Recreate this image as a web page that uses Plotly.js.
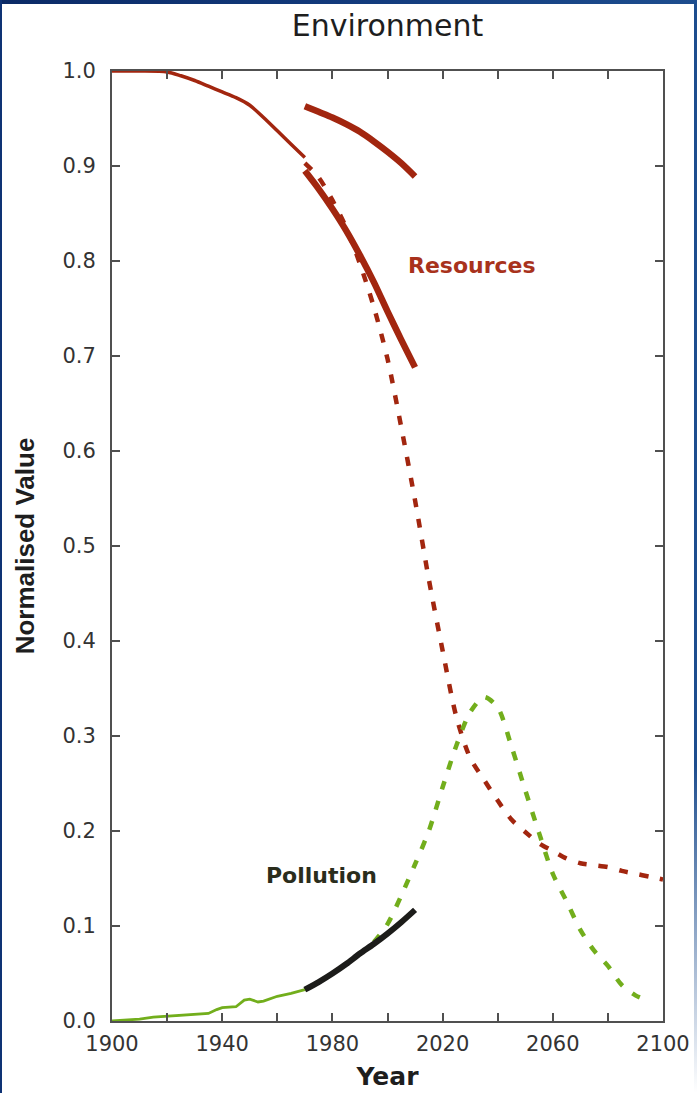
<!DOCTYPE html>
<html>
<head>
<meta charset="utf-8">
<script src="https://cdn.plot.ly/plotly-3.0.1.min.js"></script>
<style>
  html, body { margin: 0; padding: 0; background: #ffffff; }
  #wrap { position: relative; width: 697px; height: 1093px; overflow: hidden; }
  #chart { position: absolute; left: 0; top: 0; width: 697px; height: 1093px; }
  .bd { position: absolute; pointer-events: none; }
  #bTop { left: 0; top: 0; width: 697px; height: 4px; background: linear-gradient(90deg, #0b2a66 0%, #123a7c 50%, #1d4d8e 100%); }
  #bLeft { left: 0; top: 0; width: 2px; height: 1093px; background: #0e3274; }
  #bRight { right: 0; top: 0; width: 3px; height: 1093px; background: linear-gradient(180deg, #1d4d8e 0%, #1d4d8e 70%, rgba(29,77,142,0) 100%); }
</style>
</head>
<body>
<div id="wrap">
  <div id="chart"></div>
  <div class="bd" id="bTop"></div>
  <div class="bd" id="bLeft"></div>
  <div class="bd" id="bRight"></div>
</div>
<script>
// ---- Data ----
const resHistYears = [1900, 1910, 1920, 1925, 1930, 1935, 1940, 1945, 1950, 1955, 1960, 1965, 1970];
const resHistVals  = [1.000, 1.000, 0.999, 0.995, 0.990, 0.984, 0.978, 0.972, 0.964, 0.951, 0.937, 0.923, 0.909];

const resObsYears  = [1970, 1975, 1980, 1985, 1990, 1995, 2000, 2005, 2010];
const resUpperVals = [0.963, 0.957, 0.951, 0.944, 0.936, 0.926, 0.915, 0.903, 0.889];
const resLowerVals = [0.895, 0.876, 0.855, 0.832, 0.806, 0.778, 0.747, 0.717, 0.688];

const resModelYears = [1970, 1975, 1980, 1985, 1990, 1995, 2000, 2005, 2010, 2015, 2020, 2025, 2030, 2035, 2040, 2045, 2050, 2055, 2060, 2065, 2070, 2075, 2080, 2085, 2090, 2095, 2100];
const resModelVals  = [0.903, 0.888, 0.864, 0.835, 0.797, 0.752, 0.697, 0.625, 0.548, 0.465, 0.390, 0.320, 0.277, 0.254, 0.232, 0.212, 0.199, 0.187, 0.179, 0.171, 0.166, 0.164, 0.162, 0.158, 0.155, 0.152, 0.149];

const polHistYears = [1900, 1905, 1910, 1915, 1920, 1925, 1930, 1935, 1938, 1940, 1945, 1948, 1950, 1953, 1955, 1960, 1965, 1970];
const polHistVals  = [0.000, 0.001, 0.002, 0.004, 0.005, 0.006, 0.007, 0.008, 0.012, 0.014, 0.015, 0.022, 0.023, 0.020, 0.021, 0.026, 0.029, 0.033];

const polObsYears = [1970, 1975, 1980, 1985, 1990, 1995, 2000, 2005, 2010];
const polObsVals  = [0.033, 0.041, 0.050, 0.060, 0.071, 0.081, 0.092, 0.104, 0.117];

const polModelYears = [1970, 1975, 1980, 1985, 1990, 1995, 2000, 2005, 2010, 2015, 2020, 2025, 2030, 2035, 2040, 2045, 2050, 2055, 2060, 2065, 2070, 2075, 2080, 2085, 2090, 2095];
const polModelVals  = [0.033, 0.041, 0.050, 0.060, 0.071, 0.083, 0.102, 0.132, 0.165, 0.200, 0.246, 0.290, 0.325, 0.341, 0.330, 0.289, 0.243, 0.198, 0.155, 0.126, 0.096, 0.074, 0.058, 0.038, 0.027, 0.021];

const xTickVals = [1900, 1920, 1940, 1960, 1980, 2000, 2020, 2040, 2060, 2080, 2100];
const xTickText = ['1900', '', '1940', '', '1980', '', '2020', '', '2060', '', '2100'];

const chartTitle = 'Environment';
const xTitle = 'Year';
const yTitle = 'Normalised Value';
const labelResources = 'Resources';
const labelPollution = 'Pollution';

// ---- Styles ----
const RED = '#a2260f';
const GREEN = '#72ae1c';
const BLACK = '#1c1c1a';

const traces = [
  { x: resModelYears, y: resModelVals, mode: 'lines', line: { color: RED, width: 4.5, dash: '9px,12px', shape: 'spline', smoothing: 0.8 }, hoverinfo: 'skip' },
  { x: resHistYears, y: resHistVals, mode: 'lines', line: { color: RED, width: 3.5, shape: 'spline', smoothing: 0.8 }, hoverinfo: 'skip' },
  { x: resObsYears, y: resUpperVals, mode: 'lines', line: { color: RED, width: 6.5, shape: 'spline', smoothing: 0.8 }, hoverinfo: 'skip' },
  { x: resObsYears, y: resLowerVals, mode: 'lines', line: { color: RED, width: 6.5, shape: 'spline', smoothing: 0.8 }, hoverinfo: 'skip' },
  { x: polModelYears, y: polModelVals, mode: 'lines', line: { color: GREEN, width: 4.5, dash: '9px,12px', shape: 'spline', smoothing: 0.8 }, hoverinfo: 'skip' },
  { x: polHistYears, y: polHistVals, mode: 'lines', line: { color: GREEN, width: 2.8 }, hoverinfo: 'skip' },
  { x: polObsYears, y: polObsVals, mode: 'lines', line: { color: BLACK, width: 6, shape: 'spline', smoothing: 0.8 }, hoverinfo: 'skip' }
];

const axisCommon = {
  showgrid: false, zeroline: false,
  showline: true, linecolor: '#505050', linewidth: 2, mirror: 'ticks',
  ticks: 'inside', ticklen: 8, tickwidth: 2, tickcolor: '#505050'
};

const layout = {
  width: 697, height: 1093,
  margin: { l: 112, r: 34, t: 71, b: 72, pad: 0 },
  paper_bgcolor: '#ffffff', plot_bgcolor: '#ffffff',
  showlegend: false,
  title: {
    text: chartTitle,
    font: { family: 'DejaVu Sans, sans-serif', size: 30, color: '#1e1e1e' },
    xref: 'paper', x: 0.5, xanchor: 'center',
    yref: 'container', y: 1 - 25 / 1093, yanchor: 'middle'
  },
  xaxis: Object.assign({}, axisCommon, {
    range: [1900, 2100],
    tickmode: 'array', tickvals: xTickVals, ticktext: xTickText,
    tickfont: { family: 'DejaVu Sans, sans-serif', size: 21, color: '#333333' },
    ticklabelstandoff: 3,
    title: { text: xTitle, font: { family: 'DejaVu Sans, sans-serif', size: 25, color: '#1e1e1e', weight: 'bold' }, standoff: 12 }
  }),
  yaxis: Object.assign({}, axisCommon, {
    range: [0, 1],
    tickmode: 'linear', tick0: 0, dtick: 0.1, tickformat: '.1f',
    tickfont: { family: 'DejaVu Sans, sans-serif', size: 21, color: '#333333' },
    ticklabelstandoff: 10,
    title: { text: yTitle, font: { family: 'Liberation Sans, Arial, sans-serif', size: 26, color: '#1e1e1e', weight: 'bold' }, standoff: 20 }
  }),
  annotations: [
    { x: 2030.7, y: 0.795, xref: 'x', yref: 'y', text: labelResources, showarrow: false,
      font: { family: 'DejaVu Sans, sans-serif', size: 22, color: '#a8321c', weight: 'bold' }, xanchor: 'center', yanchor: 'middle' },
    { x: 1976.2, y: 0.153, xref: 'x', yref: 'y', text: labelPollution, showarrow: false,
      font: { family: 'DejaVu Sans, sans-serif', size: 22, color: '#2a2d1c', weight: 'bold' }, xanchor: 'center', yanchor: 'middle' }
  ]
};

Plotly.newPlot('chart', traces, layout, { staticPlot: true, displayModeBar: false });
</script>
</body>
</html>
